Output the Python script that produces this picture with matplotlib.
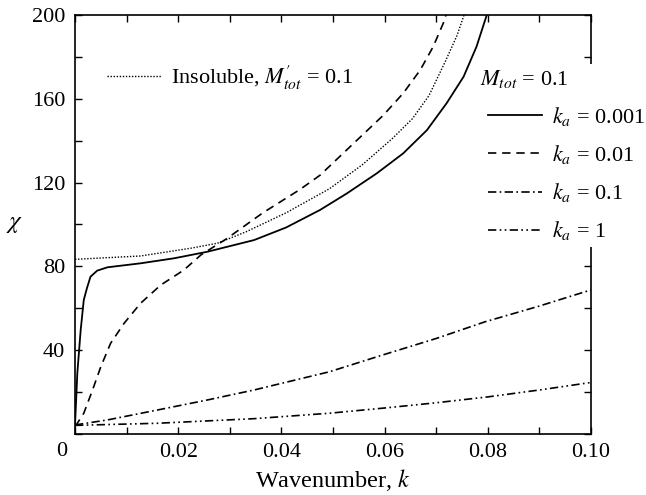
import matplotlib
matplotlib.use('Agg')
import matplotlib.pyplot as plt
from matplotlib.ticker import MultipleLocator

plt.rcParams['font.family'] = ['Liberation Serif', 'DejaVu Serif']
plt.rcParams['mathtext.fontset'] = 'stix'

# growth rate chi vs wavenumber k
k_ka0001 = [0, 0.00045, 0.0011, 0.0017, 0.0023, 0.003, 0.0043, 0.0063, 0.0127, 0.0192,
            0.0256, 0.0347, 0.0409, 0.0475, 0.0527, 0.0585, 0.0636, 0.0682, 0.072,
            0.0753, 0.0778, 0.0798]
chi_ka0001 = [4, 28.9, 49.5, 63.9, 69.4, 75, 77.9, 79.5, 81.4, 83.8,
              86.9, 92.5, 98.5, 106.9, 114.8, 124.4, 133.9, 145, 157.8,
              170.5, 184.8, 200]

k_ka001 = [0, 0.00045, 0.0017, 0.0034, 0.005, 0.0069, 0.0095, 0.0127, 0.0166, 0.0211,
           0.0244, 0.0269, 0.0293, 0.0364, 0.0435, 0.0475, 0.0507, 0.0552, 0.0597,
           0.0636, 0.0669, 0.0694, 0.0715, 0.0719]
chi_ka001 = [3.5, 5, 9.8, 20.9, 32, 43.2, 52.7, 62.3, 71, 78.2,
             85.4, 89.3, 93, 105.5, 116.5, 123.5, 131, 141.5, 152,
             162.6, 173.7, 184.8, 196.8, 200]

k_ka01 = [0, 0.0063, 0.0159, 0.0256, 0.0347, 0.0493, 0.0596, 0.07, 0.0795, 0.09, 0.1]
chi_ka01 = [4.2, 6.6, 11.3, 16.1, 20.9, 29.6, 37.6, 45.5, 53.5, 61, 68.7]

k_ka1 = [0, 0.0159, 0.0347, 0.0493, 0.06, 0.07, 0.08, 0.09, 0.1]
chi_ka1 = [4, 5, 7.2, 9.8, 12.3, 14.8, 17.6, 20.9, 24.5]

k_insol = [0, 0.0127, 0.0224, 0.0276, 0.0332, 0.0409, 0.0493, 0.0557, 0.0615, 0.0654,
           0.0686, 0.0718, 0.074, 0.0754]
chi_insol = [83.3, 84.9, 88.6, 91, 96.5, 105.5, 117, 128.5, 141, 150.5,
             161.5, 178, 190, 200]

ka_labels = [r'$k_a$ = 0.001', r'$k_a$ = 0.01', r'$k_a$ = 0.1', r'$k_a$ = 1']

fig = plt.figure(figsize=(6.46, 4.95), dpi=100)
ax = fig.add_axes([75/646, 61.25/495, 516/646, 418.75/495])

l1, = ax.plot(k_ka0001, chi_ka0001, color='black', lw=1.3, ls='-')
l2, = ax.plot(k_ka001, chi_ka001, color='black', lw=1.2, ls=(0, (5, 3.5)))
l3, = ax.plot(k_ka01, chi_ka01, color='black', lw=1.2, ls=(0, (5, 2, 1, 2)))
l4, = ax.plot(k_ka1, chi_ka1, color='black', lw=1.2, ls=(0, (5, 2, 1, 2, 1, 2)))
l5, = ax.plot(k_insol, chi_insol, color='black', lw=1.0, ls=(0, (1, 1.2)))

ax.set_xlim(0, 0.10)
ax.set_ylim(0, 200)
ax.set_xticks([0, 0.02, 0.04, 0.06, 0.08, 0.10])
ax.set_xticklabels(['', '0.02', '0.04', '0.06', '0.08', '0.10'])
ax.set_yticks([0, 40, 80, 120, 160, 200])
ax.set_yticklabels(['', '40', '80', '120', '160', '200'])
ax.xaxis.set_minor_locator(MultipleLocator(0.01))
ax.yaxis.set_minor_locator(MultipleLocator(20))
ax.tick_params(which='both', direction='in', top=True, right=True,
               length=5, width=1, labelsize=16)
ax.tick_params(axis='x', pad=7)
ax.tick_params(axis='y', pad=7)
for sp in ax.spines.values():
    sp.set_linewidth(1.2)

ax.annotate('0', xy=(0, 0), xytext=(-9.4, -12.5), textcoords='offset points',
            ha='center', va='center', fontsize=16)

ax.set_xlabel(r'Wavenumber, $k$', fontsize=17.5, labelpad=3)
ax.set_ylabel(r'$\chi$', fontsize=18, rotation=0, va='center')
ax.yaxis.set_label_coords(-0.118, 0.5)

leg1 = ax.legend([l5], [r"Insoluble, $M^{\prime}_{tot}$ = 0.1"], loc='upper left',
                 bbox_to_anchor=(91.5/646, 1 - 48/495), bbox_transform=fig.transFigure,
                 frameon=False, fontsize=16, handlelength=2.43, handletextpad=0.45,
                 borderpad=0.2)
ax.add_artist(leg1)

leg2 = ax.legend([l1, l2, l3, l4], ka_labels, loc='upper left',
                 bbox_to_anchor=(472.5/646, 1 - 52.5/495), bbox_transform=fig.transFigure,
                 title=r'$M_{tot}$ = 0.1', title_fontsize=16, alignment='left',
                 fontsize=16, handlelength=2.43, handletextpad=0.45, labelspacing=0.68,
                 borderpad=0.2, frameon=True, facecolor='white', edgecolor='none',
                 framealpha=1, fancybox=False)
leg2.get_title().set_x(-8)
leg2.set_zorder(5)

fig.savefig('out.png', dpi=100)
